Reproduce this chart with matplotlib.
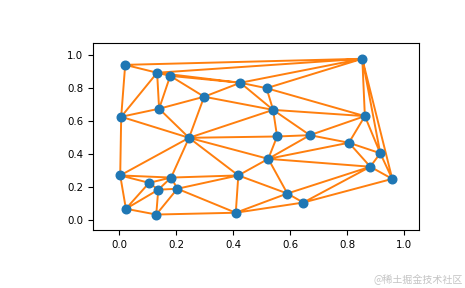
import matplotlib
matplotlib.use("Agg")
import matplotlib.pyplot as plt
import matplotlib.tri as mtri
import numpy as np

x = [0.021, 0.133, 0.179, 0.298, 0.140, 0.007, 0.245, 0.0035, 0.105, 0.182,
     0.137, 0.204, 0.0235, 0.130, 0.409, 0.418, 0.425, 0.853, 0.517, 0.540,
     0.862, 0.554, 0.669, 0.806, 0.916, 0.523, 0.881, 0.958, 0.590, 0.646]
y = [0.943, 0.895, 0.876, 0.749, 0.676, 0.627, 0.499, 0.270, 0.225, 0.257,
     0.183, 0.189, 0.067, 0.032, 0.043, 0.270, 0.834, 0.980, 0.801, 0.669,
     0.631, 0.507, 0.515, 0.469, 0.405, 0.371, 0.323, 0.249, 0.160, 0.105]
watermark = "@稀土掘金技术社区"

plt.rcParams['font.size'] = 7.4
fig = plt.figure(figsize=(4.65, 2.88), dpi=100)
ax = fig.add_axes([0.2, 0.201, 0.702, 0.649])

tri = mtri.Triangulation(x, y)
ax.triplot(tri, color='C1', lw=1.4, zorder=2)
ax.plot(x, y, 'o', color='C0', ms=6.2, zorder=3)

xa = np.array(x); ya = np.array(y)
px = xa.max() - xa.min(); py = ya.max() - ya.min()
ax.set_xlim(xa.min() - 0.1 * px, xa.max() + 0.1 * px)
ax.set_ylim(ya.min() - 0.1 * py, ya.max() + 0.1 * py)
ax.set_xticks([0.0, 0.2, 0.4, 0.6, 0.8, 1.0])
ax.set_yticks([0.0, 0.2, 0.4, 0.6, 0.8, 1.0])
for s in ax.spines.values():
    s.set_linewidth(0.8)
ax.tick_params(width=0.8, length=3.5)

fig.text(0.995, 1 - 279.5 / 288, watermark, ha='right', va='center',
         fontsize=7.2, color='#c4c4c4',
         family=['Noto Sans CJK SC', 'DejaVu Sans'])

fig.savefig("out.png", dpi=100)
